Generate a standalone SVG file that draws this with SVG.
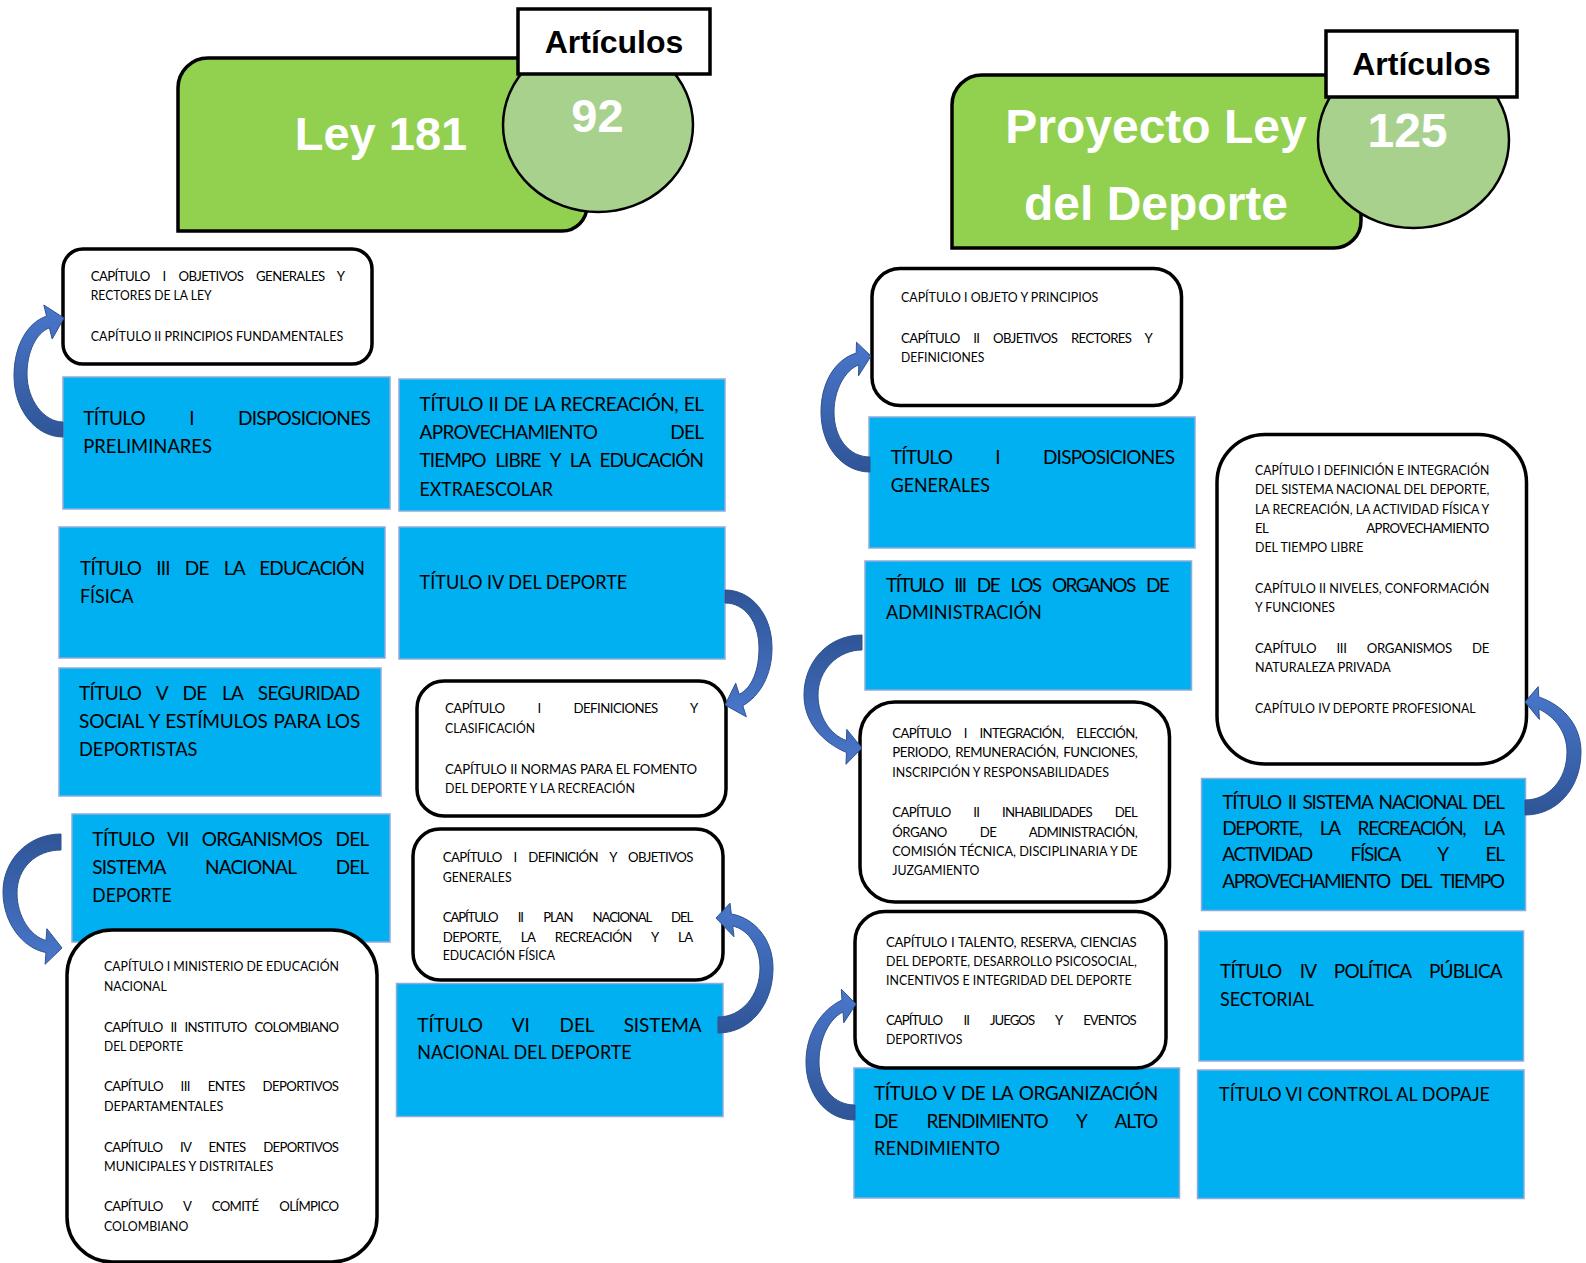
<svg xmlns="http://www.w3.org/2000/svg" width="1586" height="1263" viewBox="0 0 1586 1263">
<style>
.bg{fill:#ffffff}
.green{fill:#92D050;stroke:#000;stroke-width:3.5}
.circ{fill:#A9D18E;stroke:#000;stroke-width:2.5}
.art{fill:#fff;stroke:#000;stroke-width:3.5}
.blue{fill:#00B0F0;stroke:#8FAADC;stroke-width:1.5}
.white{fill:#fff;stroke:#000;stroke-width:3.5}
.h{font-family:"Liberation Sans",Arial,sans-serif;font-weight:bold;text-anchor:middle}
.hw{fill:#fff}
.hb{fill:#000;font-size:32px}
.t{font-family:Lato,"Open Sans","Liberation Sans",sans-serif;font-size:19px;fill:#000}
.c{font-family:Lato,"Open Sans","Liberation Sans",sans-serif;font-size:13.2px;fill:#000}
.arr{stroke:#2F528F;stroke-width:1}
</style>
<defs>
<linearGradient id="gUp" x1="0" y1="1" x2="0" y2="0"><stop offset="0" stop-color="#2F5597"/><stop offset="1" stop-color="#4A77CC"/></linearGradient>
<linearGradient id="gDown" x1="0" y1="0" x2="0" y2="1"><stop offset="0" stop-color="#2F5597"/><stop offset="1" stop-color="#4A77CC"/></linearGradient>
</defs>
<rect class="bg" x="0" y="0" width="1586" height="1263"/>

<g id="header-ley181">
<path class="green" d="M208,58 H587 V206 A25,25 0 0 1 562,231 H178 V88 A30,30 0 0 1 208,58 Z"/>
<text class="h hw" x="381" y="150" font-size="47">Ley 181</text>
</g>
<g id="count-92">
<ellipse class="circ" cx="598" cy="125" rx="95" ry="87"/>
<text class="h hw" x="597.5" y="131.5" font-size="47">92</text>
</g>
<g id="label-articulos-1">
<rect class="art" x="518" y="9" width="192" height="65"/>
<text class="h hb" x="614" y="52.5">Artículos</text>
</g>

<g id="header-proyecto">
<path class="green" d="M982,75 H1361 V221 A27,27 0 0 1 1334,248 H952 V105 A30,30 0 0 1 982,75 Z"/>
<text class="h hw" x="1156" y="143" font-size="48">Proyecto Ley</text>
<text class="h hw" x="1156" y="220" font-size="48">del Deporte</text>
</g>
<g id="count-125">
<ellipse class="circ" cx="1413.5" cy="140" rx="95.5" ry="88"/>
<text class="h hw" x="1407.5" y="147" font-size="48">125</text>
</g>
<g id="label-articulos-2">
<rect class="art" x="1326" y="31" width="191" height="66"/>
<text class="h hb" x="1421.5" y="75">Artículos</text>
</g>

<!-- LEFT COLUMN -->
<g id="titulo-1">
<rect class="blue" x="63" y="377" width="327" height="132"/>
<text class="t" x="83.3" y="425" textLength="287.4" lengthAdjust="spacing" word-spacing="40">TÍTULO I DISPOSICIONES</text>
<text class="t" x="83.3" y="453" textLength="128.7" lengthAdjust="spacingAndGlyphs">PRELIMINARES</text>
</g>
<g id="titulo-2">
<rect class="blue" x="399" y="379" width="326" height="132"/>
<text class="t" x="419.6" y="411" textLength="284.4" lengthAdjust="spacing" word-spacing="1">TÍTULO II DE LA RECREACIÓN, EL</text>
<text class="t" x="419.6" y="439" textLength="284.4" lengthAdjust="spacing" word-spacing="69">APROVECHAMIENTO DEL</text>
<text class="t" x="419.6" y="467" textLength="284.4" lengthAdjust="spacing" word-spacing="6">TIEMPO LIBRE Y LA EDUCACIÓN</text>
<text class="t" x="419.6" y="496" textLength="133.4" lengthAdjust="spacingAndGlyphs">EXTRAESCOLAR</text>
</g>
<g id="titulo-3">
<rect class="blue" x="59" y="527" width="326" height="131"/>
<text class="t" x="80" y="575" textLength="285" lengthAdjust="spacing" word-spacing="11">TÍTULO III DE LA EDUCACIÓN</text>
<text class="t" x="80" y="603.3" textLength="53.6" lengthAdjust="spacingAndGlyphs">FÍSICA</text>
</g>
<g id="titulo-4">
<rect class="blue" x="399" y="527" width="326" height="132"/>
<text class="t" x="419.6" y="589" textLength="207.7" lengthAdjust="spacingAndGlyphs">TÍTULO IV DEL DEPORTE</text>
</g>
<g id="titulo-5">
<rect class="blue" x="59" y="668" width="322" height="128"/>
<text class="t" x="79" y="700" textLength="281.2" lengthAdjust="spacing" word-spacing="11">TÍTULO V DE LA SEGURIDAD</text>
<text class="t" x="79" y="728.3" textLength="281.2" lengthAdjust="spacing" word-spacing="1">SOCIAL Y ESTÍMULOS PARA LOS</text>
<text class="t" x="79" y="755.7" textLength="118.4" lengthAdjust="spacingAndGlyphs">DEPORTISTAS</text>
</g>
<g id="titulo-6">
<rect class="blue" x="396.5" y="983.5" width="326.5" height="133"/>
<text class="t" x="417.3" y="1031.7" textLength="284.4" lengthAdjust="spacing" word-spacing="25">TÍTULO VI DEL SISTEMA</text>
<text class="t" x="417.3" y="1059.3" textLength="214.4" lengthAdjust="spacingAndGlyphs">NACIONAL DEL DEPORTE</text>
</g>
<g id="titulo-7">
<rect class="blue" x="72" y="814" width="318" height="128"/>
<text class="t" x="92.3" y="846" textLength="277" lengthAdjust="spacing" word-spacing="9">TÍTULO VII ORGANISMOS DEL</text>
<text class="t" x="92.3" y="874" textLength="277" lengthAdjust="spacing" word-spacing="36">SISTEMA NACIONAL DEL</text>
<text class="t" x="92.3" y="901.7" textLength="79.4" lengthAdjust="spacingAndGlyphs">DEPORTE</text>
</g>

<g id="capitulos-titulo-1">
<rect class="white" x="63" y="249" width="309" height="115" rx="20"/>
<text class="c" x="90.7" y="281" textLength="254.3" lengthAdjust="spacing" word-spacing="10">CAPÍTULO I OBJETIVOS GENERALES Y</text>
<text class="c" x="90.7" y="300" textLength="121" lengthAdjust="spacingAndGlyphs">RECTORES DE LA LEY</text>
<text class="c" x="90.7" y="340.7" textLength="252.6" lengthAdjust="spacingAndGlyphs">CAPÍTULO II PRINCIPIOS FUNDAMENTALES</text>
</g>
<g id="capitulos-titulo-4">
<rect class="white" x="417" y="681" width="309" height="135" rx="27"/>
<text class="c" x="445" y="712.7" textLength="253.3" lengthAdjust="spacing" word-spacing="30">CAPÍTULO I DEFINICIONES Y</text>
<text class="c" x="445" y="732.7" textLength="90" lengthAdjust="spacingAndGlyphs">CLASIFICACIÓN</text>
<text class="c" x="445" y="774" textLength="252" lengthAdjust="spacing" word-spacing="0.5">CAPÍTULO II NORMAS PARA EL FOMENTO</text>
<text class="c" x="445" y="792.7" textLength="190" lengthAdjust="spacingAndGlyphs">DEL DEPORTE Y LA RECREACIÓN</text>
</g>
<g id="capitulos-titulo-6">
<rect class="white" x="413" y="829" width="310" height="151" rx="27"/>
<text class="c" x="442.7" y="861.7" textLength="250.6" lengthAdjust="spacing" word-spacing="9">CAPÍTULO I DEFINICIÓN Y OBJETIVOS</text>
<text class="c" x="442.7" y="881.7" textLength="69" lengthAdjust="spacingAndGlyphs">GENERALES</text>
<text class="c" x="442.7" y="922.3" textLength="250.6" lengthAdjust="spacing" word-spacing="18">CAPÍTULO II PLAN NACIONAL DEL</text>
<text class="c" x="442.7" y="941.7" textLength="250.6" lengthAdjust="spacing" word-spacing="17">DEPORTE, LA RECREACIÓN Y LA</text>
<text class="c" x="442.7" y="960" textLength="112.3" lengthAdjust="spacingAndGlyphs">EDUCACIÓN FÍSICA</text>
</g>
<g id="capitulos-titulo-7">
<rect class="white" x="67" y="930" width="310" height="332" rx="45"/>
<text class="c" x="104" y="970.7" textLength="235" lengthAdjust="spacingAndGlyphs">CAPÍTULO I MINISTERIO DE EDUCACIÓN</text>
<text class="c" x="104" y="990.7" textLength="62.7" lengthAdjust="spacingAndGlyphs">NACIONAL</text>
<text class="c" x="104" y="1031.7" textLength="235" lengthAdjust="spacing" word-spacing="5">CAPÍTULO II INSTITUTO COLOMBIANO</text>
<text class="c" x="104" y="1050.7" textLength="79.3" lengthAdjust="spacingAndGlyphs">DEL DEPORTE</text>
<text class="c" x="104" y="1090.7" textLength="235" lengthAdjust="spacing" word-spacing="15">CAPÍTULO III ENTES DEPORTIVOS</text>
<text class="c" x="104" y="1110.7" textLength="119.3" lengthAdjust="spacingAndGlyphs">DEPARTAMENTALES</text>
<text class="c" x="104" y="1151.7" textLength="235" lengthAdjust="spacing" word-spacing="15">CAPÍTULO IV ENTES DEPORTIVOS</text>
<text class="c" x="104" y="1170.7" textLength="169.3" lengthAdjust="spacingAndGlyphs">MUNICIPALES Y DISTRITALES</text>
<text class="c" x="104" y="1210.7" textLength="235" lengthAdjust="spacing" word-spacing="18">CAPÍTULO V COMITÉ OLÍMPICO</text>
<text class="c" x="104" y="1230.7" textLength="84.3" lengthAdjust="spacingAndGlyphs">COLOMBIANO</text>
</g>

<!-- RIGHT COLUMN -->
<g id="p-titulo-1">
<rect class="blue" x="869" y="417" width="326" height="131"/>
<text class="t" x="890.7" y="464" textLength="284.3" lengthAdjust="spacing" word-spacing="39">TÍTULO I DISPOSICIONES</text>
<text class="t" x="890.7" y="491.7" textLength="99.3" lengthAdjust="spacingAndGlyphs">GENERALES</text>
</g>
<g id="p-titulo-3">
<rect class="blue" x="865" y="561" width="326.5" height="129"/>
<text class="t" x="886" y="591.7" textLength="284" lengthAdjust="spacing" word-spacing="8">TÍTULO III DE LOS ORGANOS DE</text>
<text class="t" x="886" y="619.3" textLength="155.7" lengthAdjust="spacingAndGlyphs">ADMINISTRACIÓN</text>
</g>
<g id="p-titulo-5">
<rect class="blue" x="854" y="1068" width="325.5" height="130"/>
<text class="t" x="874" y="1100" textLength="284.3" lengthAdjust="spacing" word-spacing="2">TÍTULO V DE LA ORGANIZACIÓN</text>
<text class="t" x="874" y="1127.7" textLength="284.3" lengthAdjust="spacing" word-spacing="25">DE RENDIMIENTO Y ALTO</text>
<text class="t" x="874" y="1155" textLength="126" lengthAdjust="spacingAndGlyphs">RENDIMIENTO</text>
</g>
<g id="p-titulo-2">
<rect class="blue" x="1201.5" y="778.5" width="324" height="132"/>
<text class="t" x="1222.3" y="809.3" textLength="282.7" lengthAdjust="spacing" word-spacing="3">TÍTULO II SISTEMA NACIONAL DEL</text>
<text class="t" x="1222.3" y="835" textLength="282.7" lengthAdjust="spacing" word-spacing="15">DEPORTE, LA RECREACIÓN, LA</text>
<text class="t" x="1222.3" y="861" textLength="282.7" lengthAdjust="spacing" word-spacing="35">ACTIVIDAD FÍSICA Y EL</text>
<text class="t" x="1222.3" y="887.7" textLength="282.7" lengthAdjust="spacing" word-spacing="7">APROVECHAMIENTO DEL TIEMPO</text>
</g>
<g id="p-titulo-4">
<rect class="blue" x="1199" y="931" width="324.5" height="130"/>
<text class="t" x="1220" y="978.3" textLength="282.7" lengthAdjust="spacing" word-spacing="14">TÍTULO IV POLÍTICA PÚBLICA</text>
<text class="t" x="1220" y="1006" textLength="94" lengthAdjust="spacingAndGlyphs">SECTORIAL</text>
</g>
<g id="p-titulo-6">
<rect class="blue" x="1197.5" y="1070" width="326.5" height="128.5"/>
<text class="t" x="1219" y="1100.7" textLength="271" lengthAdjust="spacingAndGlyphs">TÍTULO VI CONTROL AL DOPAJE</text>
</g>

<g id="p-capitulos-titulo-1">
<rect class="white" x="872" y="268.5" width="309.5" height="137" rx="28"/>
<text class="c" x="901" y="301.7" textLength="197.3" lengthAdjust="spacingAndGlyphs">CAPÍTULO I OBJETO Y PRINCIPIOS</text>
<text class="c" x="901" y="343.3" textLength="251.7" lengthAdjust="spacing" word-spacing="11">CAPÍTULO II OBJETIVOS RECTORES Y</text>
<text class="c" x="901" y="361.7" textLength="83.3" lengthAdjust="spacingAndGlyphs">DEFINICIONES</text>
</g>
<g id="p-capitulos-titulo-3">
<rect class="white" x="860" y="702" width="309.5" height="200" rx="35"/>
<text class="c" x="892.3" y="737.7" textLength="245.4" lengthAdjust="spacing" word-spacing="10">CAPÍTULO I INTEGRACIÓN, ELECCIÓN,</text>
<text class="c" x="892.3" y="756.7" textLength="245.4" lengthAdjust="spacing" word-spacing="2">PERIODO, REMUNERACIÓN, FUNCIONES,</text>
<text class="c" x="892.3" y="776.7" textLength="216.7" lengthAdjust="spacingAndGlyphs">INSCRIPCIÓN Y RESPONSABILIDADES</text>
<text class="c" x="892.3" y="816.7" textLength="245.4" lengthAdjust="spacing" word-spacing="20">CAPÍTULO II INHABILIDADES DEL</text>
<text class="c" x="892.3" y="836.7" textLength="245.4" lengthAdjust="spacing" word-spacing="30">ÓRGANO DE ADMINISTRACIÓN,</text>
<text class="c" x="892.3" y="856" textLength="245.4" lengthAdjust="spacingAndGlyphs">COMISIÓN TÉCNICA, DISCIPLINARIA Y DE</text>
<text class="c" x="892.3" y="875" textLength="87" lengthAdjust="spacingAndGlyphs">JUZGAMIENTO</text>
</g>
<g id="p-capitulos-titulo-5">
<rect class="white" x="855" y="911.5" width="311" height="156.5" rx="30"/>
<text class="c" x="886" y="946.7" textLength="250.7" lengthAdjust="spacing" word-spacing="1">CAPÍTULO I TALENTO, RESERVA, CIENCIAS</text>
<text class="c" x="886" y="966" textLength="250.7" lengthAdjust="spacingAndGlyphs">DEL DEPORTE, DESARROLLO PSICOSOCIAL,</text>
<text class="c" x="886" y="985" textLength="245.7" lengthAdjust="spacingAndGlyphs">INCENTIVOS E INTEGRIDAD DEL DEPORTE</text>
<text class="c" x="886" y="1025" textLength="250.7" lengthAdjust="spacing" word-spacing="19">CAPÍTULO II JUEGOS Y EVENTOS</text>
<text class="c" x="886" y="1044.3" textLength="76.3" lengthAdjust="spacingAndGlyphs">DEPORTIVOS</text>
</g>
<g id="p-capitulos-titulo-2">
<rect class="white" x="1217" y="434.5" width="309.5" height="329.5" rx="48"/>
<text class="c" x="1255" y="475" textLength="234.3" lengthAdjust="spacingAndGlyphs">CAPÍTULO I DEFINICIÓN E INTEGRACIÓN</text>
<text class="c" x="1255" y="494" textLength="234.3" lengthAdjust="spacingAndGlyphs">DEL SISTEMA NACIONAL DEL DEPORTE,</text>
<text class="c" x="1255" y="514" textLength="234.3" lengthAdjust="spacingAndGlyphs">LA RECREACIÓN, LA ACTIVIDAD FÍSICA Y</text>
<text class="c" x="1255" y="533.3" textLength="234.3" lengthAdjust="spacing" word-spacing="96">EL APROVECHAMIENTO</text>
<text class="c" x="1255" y="552.3" textLength="108.3" lengthAdjust="spacingAndGlyphs">DEL TIEMPO LIBRE</text>
<text class="c" x="1255" y="592.7" textLength="234.3" lengthAdjust="spacingAndGlyphs">CAPÍTULO II NIVELES, CONFORMACIÓN</text>
<text class="c" x="1255" y="612.3" textLength="80" lengthAdjust="spacingAndGlyphs">Y FUNCIONES</text>
<text class="c" x="1255" y="652.7" textLength="234.3" lengthAdjust="spacing" word-spacing="17">CAPÍTULO III ORGANISMOS DE</text>
<text class="c" x="1255" y="671.7" textLength="135.7" lengthAdjust="spacingAndGlyphs">NATURALEZA PRIVADA</text>
<text class="c" x="1255" y="712.7" textLength="220.7" lengthAdjust="spacingAndGlyphs">CAPÍTULO IV DEPORTE PROFESIONAL</text>
</g>

<g id="connectors">
<path class="arr" fill="url(#gUp)" d="M63,437 C36,437 14,410 14,376 C14,345 28,322 46.6,316.2 L43.8,305 L64,318 L52.2,339 L49.4,327.8 C36,333 27,352 27,374 C27,400 44,422 63,422 Z"/>
<path class="arr" fill="url(#gDown)" d="M725,590 C752,590 772,615 772,648 C772,675 760,696 742.8,705.7 L746.3,716.8 L725,705 L735.7,683.2 L739.2,694.3 C752,688 759,670 759,648 C759,622 745,603 725,603 Z"/>
<path class="arr" fill="url(#gDown)" d="M61,834 C28,834 3,860 3,892 C3,922 22,948 46,952.5 L45.1,964.3 L62,948 L46.9,928.7 L46,940.5 C30,936 17,916 17,893 C17,868 36,850 61,850 Z"/>
<path class="arr" fill="url(#gUp)" d="M718,1033 C750,1033 773,1005 773,968 C773,940 755,918 731.3,914 L730,903.2 L716,918 L734,936.8 L732.7,926 C749,930 760,947 760,968 C760,995 742,1017 718,1017 Z"/>
<path class="arr" fill="url(#gUp)" d="M870,472 C842,472 821,446 821,412 C821,384 834,360 856.2,353.1 L856.5,342.2 L871,356 L858.5,375.8 L858.8,364.9 C845,370 834,390 834,412 C834,438 849,457 870,457 Z"/>
<path class="arr" fill="url(#gDown)" d="M862,635 C828,635 804,662 804,695 C804,722 822,742 846.5,752.5 L845.95,764.3 L862,748 L846.75,729.4 L846.5,740.5 C830,735 818,716 818,695 C818,670 838,650 862,650 Z"/>
<path class="arr" fill="url(#gUp)" d="M855,1120 C826,1120 806,1094 806,1062 C806,1033 821,1010 842,1000 L841.3,989.2 L856,1004 L843.8,1022.8 L843,1012 C830,1018 819,1038 819,1062 C819,1088 834,1105 855,1105 Z"/>
<path class="arr" fill="url(#gUp)" d="M1525,815 C1558,815 1581,787 1581,752 C1581,725 1563,705 1538.8,697 L1538.2,686.6 L1525,702 L1539.4,719.4 L1538.8,709 C1555,717 1567,732 1567,752 C1567,780 1548,800 1525,800 Z"/>
</g>
</svg>
